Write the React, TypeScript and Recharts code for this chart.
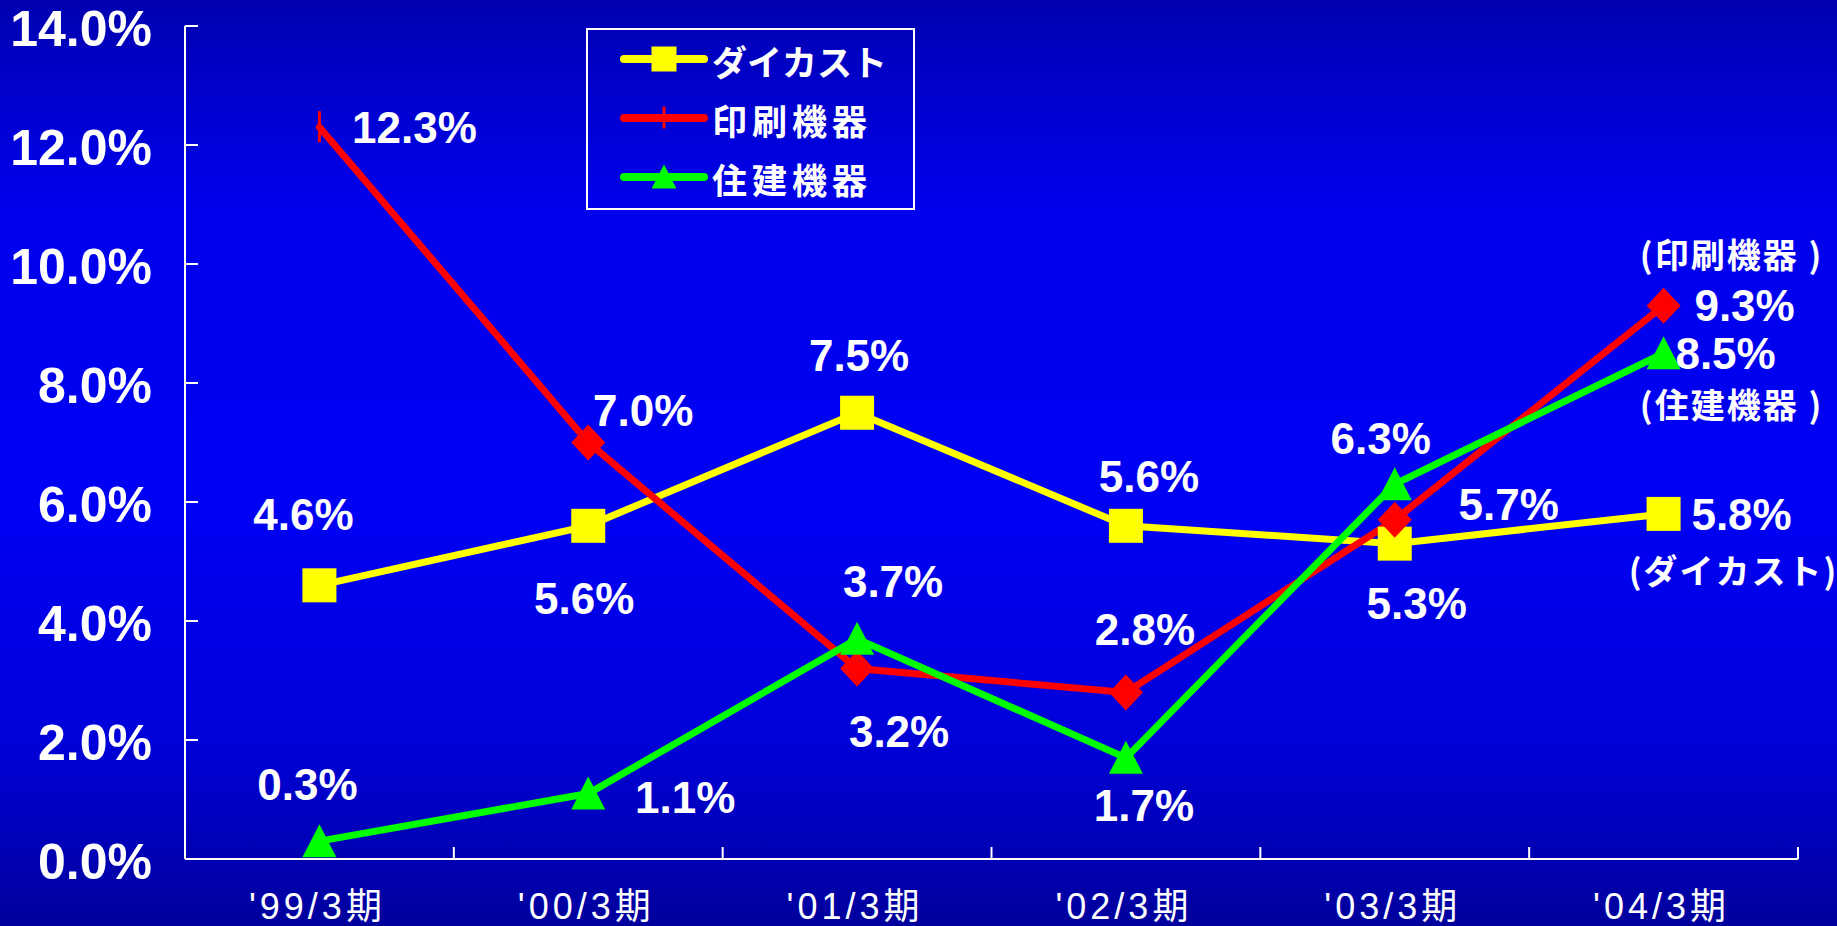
import { LineChart, Line, XAxis, YAxis, Legend } from "recharts";

// values (%)
const CATEGORIES = ["'99/3期", "'00/3期", "'01/3期", "'02/3期", "'03/3期", "'04/3期"];
const DIECAST = [4.6, 5.6, 7.5, 5.6, 5.3, 5.8];
const PRINTING = [12.3, 7.0, 3.2, 2.8, 5.7, 9.3];
const HOUSING = [0.3, 1.1, 3.7, 1.7, 6.3, 8.5];
const Y_TICKS = [0, 2, 4, 6, 8, 10, 12, 14];

const SERIES_ORDER = ["diecast", "printing", "housing"];
const NAMES: Record<string, string> = {
  diecast: "ダイカスト",
  printing: "印刷機器",
  housing: "住建機器",
};
const END_NOTES: Record<string, string> = {
  diecast: "(ダイカスト)",
  printing: "(印刷機器 )",
  housing: "(住建機器 )",
};

// where each value label sits, relative to its marker
const LABEL_OFFSETS: Record<string, number[][]> = {
  diecast: [[-16, -71], [-4, 73], [2, -57], [23, -49], [22, 60], [78, 1]],
  printing: [[95, 0], [55, -32], [42, 63], [19, -63], [114, -15], [81, 0]],
  housing: [[-12, -57], [97, 4], [36, -57], [18, 48], [-14, -46], [62, 0]],
};
const NOTE_OFFSETS: Record<string, number[]> = {
  diecast: [70, 56],
  printing: [68, -52],
  housing: [68, 50],
};

const COLORS: Record<string, string> = {
  diecast: "#ffff00",
  printing: "#ff0000",
  housing: "#00ff00",
};

const LATIN = '"Liberation Sans", Arial, "Noto Sans CJK JP", sans-serif';
const CJK = '"Noto Sans CJK JP", "Liberation Sans", sans-serif';

const data = CATEGORIES.map((cat, i) => ({
  cat,
  diecast: DIECAST[i],
  printing: PRINTING[i],
  housing: HOUSING[i],
}));

function Marker({ kind, cx, cy, size, first }: any) {
  const h = size / 2;
  if (kind === "diecast") {
    return <rect x={cx - h} y={cy - h} width={size} height={size} fill={COLORS.diecast} />;
  }
  if (kind === "printing") {
    if (first) {
      return <line x1={cx} x2={cx} y1={cy - h + 1} y2={cy + h - 2} stroke={COLORS.printing} strokeWidth={3} />;
    }
    return (
      <polygon
        points={`${cx},${cy - h - 1} ${cx + h},${cy} ${cx},${cy + h + 1} ${cx - h},${cy}`}
        fill={COLORS.printing}
      />
    );
  }
  return (
    <polygon
      points={`${cx},${cy - h} ${cx + h},${cy + h - 1} ${cx - h},${cy + h - 1}`}
      fill={COLORS.housing}
    />
  );
}

function makeDot(kind: string) {
  return (props: any) => {
    const { cx, cy, index, value } = props;
    const [dx, dy] = LABEL_OFFSETS[kind][index];
    const last = index === CATEGORIES.length - 1;
    const note = NOTE_OFFSETS[kind];
    return (
      <g key={`${kind}-${index}`}>
        <Marker kind={kind} cx={cx} cy={cy} size={34} first={index === 0} />
        <text
          x={cx + dx}
          y={cy + dy}
          textAnchor="middle"
          dominantBaseline="central"
          fill="#fff"
          fontFamily={LATIN}
          fontWeight="bold"
          fontSize={44}
        >
          {Number(value).toFixed(1)}%
        </text>
        {last && (
          <text
            x={cx + note[0]}
            y={cy + note[1]}
            textAnchor="middle"
            dominantBaseline="central"
            fill="#fff"
            fontFamily={CJK}
            fontWeight="bold"
            fontSize={34}
            letterSpacing={2}
          >
            {END_NOTES[kind]}
          </text>
        )}
      </g>
    );
  };
}

function YTick(props: any) {
  const { x, y, payload } = props;
  const axisX = x + 33;
  return (
    <g>
      <line x1={axisX} x2={axisX + 13} y1={y} y2={y} stroke="#fff" strokeWidth={2} />
      <text
        x={x}
        y={y + 3}
        textAnchor="end"
        dominantBaseline="central"
        fill="#fff"
        fontFamily={LATIN}
        fontWeight="bold"
        fontSize={50}
      >
        {Number(payload.value).toFixed(1)}%
      </text>
    </g>
  );
}

function XTick(props: any) {
  const { x, y, payload, index } = props;
  const half = payload.offset || (1613 / CATEGORIES.length) / 2;
  return (
    <g>
      <line x1={x - half} x2={x - half} y1={y} y2={y - 12} stroke="#fff" strokeWidth={2} />
      {index === CATEGORIES.length - 1 && (
        <line x1={x + half} x2={x + half} y1={y} y2={y - 12} stroke="#fff" strokeWidth={2} />
      )}
      <text
        x={x - 2}
        y={y + 47}
        textAnchor="middle"
        dominantBaseline="central"
        fill="#fff"
        fontFamily={LATIN}
        fontSize={36}
        letterSpacing={4}
      >
        {payload.value}
      </text>
    </g>
  );
}

function LegendBox({ payload }: any) {
  const rows = [...(payload || [])].sort(
    (a: any, b: any) => SERIES_ORDER.indexOf(a.dataKey) - SERIES_ORDER.indexOf(b.dataKey)
  );
  return (
    <div style={{ width: 325, height: 178, border: "2px solid #fff" }}>
      <svg width={325} height={178}>
        {rows.map((entry: any, i: number) => {
          const kind = entry.dataKey as string;
          const cy = 29 + i * 59;
          return (
            <g key={kind}>
              <line x1={36} x2={116} y1={cy} y2={cy} stroke={COLORS[kind]} strokeWidth={8} strokeLinecap="round" />
              <Marker kind={kind} cx={76} cy={cy} size={25} first={kind === "printing"} />
              <text
                x={124}
                y={cy + 1}
                dominantBaseline="central"
                fill="#fff"
                fontFamily={CJK}
                fontWeight="bold"
                fontSize={35}
                letterSpacing={kind === "diecast" ? 0 : 5}
              >
                {NAMES[kind]}
              </text>
            </g>
          );
        })}
      </svg>
    </div>
  );
}

export default function App() {
  return (
    <div
      style={{
        position: "absolute",
        left: 0,
        top: 0,
        width: 1837,
        height: 926,
        background:
          "linear-gradient(180deg, #0000b0 0%, #0000ec 22%, #0000f4 55%, #0000d8 80%, #00009c 100%)",
      }}
    >
      <LineChart width={1837} height={926} data={data} margin={{ top: 26, right: 39, bottom: 0, left: 0 }}>
        <XAxis
          dataKey="cat"
          scale="band"
          height={67}
          interval={0}
          tickSize={0}
          tickMargin={0}
          tickLine={false}
          axisLine={{ stroke: "#fff", strokeWidth: 2 }}
          tick={(p: any) => <XTick {...p} />}
        />
        <YAxis
          domain={[0, 14]}
          ticks={Y_TICKS}
          interval={0}
          width={185}
          tickSize={0}
          tickMargin={33}
          tickLine={false}
          axisLine={{ stroke: "#fff", strokeWidth: 2 }}
          tick={(p: any) => <YTick {...p} />}
        />
        <Legend
          layout="horizontal"
          align="center"
          verticalAlign="middle"
          wrapperStyle={{ left: 586, top: 28, width: 329, height: 182 }}
          content={(p: any) => <LegendBox {...p} />}
        />
        <Line
          dataKey="diecast"
          name={NAMES.diecast}
          stroke={COLORS.diecast}
          strokeWidth={7}
          strokeLinecap="round"
          dot={makeDot("diecast")}
          activeDot={false}
          isAnimationActive={false}
        />
        <Line
          dataKey="printing"
          name={NAMES.printing}
          stroke={COLORS.printing}
          strokeWidth={7}
          strokeLinecap="round"
          dot={makeDot("printing")}
          activeDot={false}
          isAnimationActive={false}
        />
        <Line
          dataKey="housing"
          name={NAMES.housing}
          stroke={COLORS.housing}
          strokeWidth={7}
          strokeLinecap="round"
          dot={makeDot("housing")}
          activeDot={false}
          isAnimationActive={false}
        />
      </LineChart>
    </div>
  );
}
